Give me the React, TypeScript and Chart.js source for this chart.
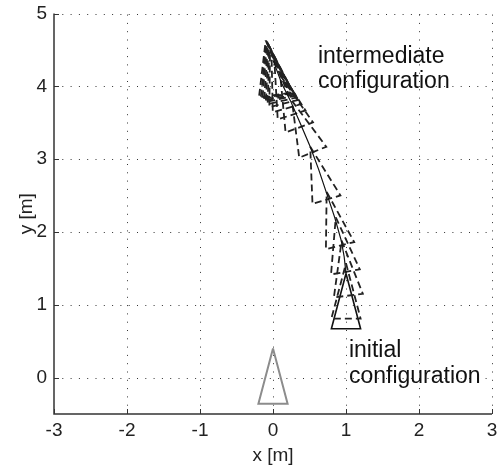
import React, { useEffect, useRef } from "react";
import { Chart, registerables } from "chart.js";

Chart.register(...registerables);

const xTicks = [-3, -2, -1, 0, 1, 2, 3];
const yTicks = [0, 1, 2, 3, 4, 5];
const xMin = -3;
const xMax = 3;
const yMin = -0.5;
const yMax = 5;

// trajectory of the robot front point [m]
const trajX = [1.0, 0.975, 0.935, 0.845, 0.735, 0.625, 0.51, 0.37, 0.24, 0.12, 0.0];
const trajY = [1.43, 1.66, 1.88, 2.2, 2.53, 2.86, 3.17, 3.5, 3.8, 4.04, 4.36];

// poses: front x [m], front y [m], heading [deg]
const goalPose = [0, 0.4, 90];
const initialPose = [1.0, 1.43, 90];
const interX = [1.0, 0.94, 0.86, 0.735, 0.51, 0.26, 0.1, 0.02, -0.02, -0.04, -0.05, -0.06, -0.07, -0.08, -0.09, -0.1];
const interY = [1.57, 1.88, 2.2, 2.55, 3.17, 3.8, 4.15, 4.33, 4.43, 4.5, 4.54, 4.57, 4.59, 4.61, 4.62, 4.63];
const interHeading = [90, 97, 100, 104, 107, 112, 110, 108, 106, 104, 103, 102, 101, 100, 99, 98];

const labelTop = ["intermediate", "configuration"];
const labelBottom = ["initial", "configuration"];

const TRI_LEN = 0.76;
const TRI_WIDTH = 0.4;
const FONT = '"Liberation Sans", Arial, sans-serif';

function triangle(x: number, y: number, h: number) {
  const r = (h * Math.PI) / 180;
  const dx = Math.cos(r);
  const dy = Math.sin(r);
  const bx = x - TRI_LEN * dx;
  const by = y - TRI_LEN * dy;
  const px = (Math.sin(r) * TRI_WIDTH) / 2;
  const py = (-Math.cos(r) * TRI_WIDTH) / 2;
  return [
    { x, y },
    { x: bx + px, y: by + py },
    { x: bx - px, y: by - py },
    { x, y },
  ];
}

const axesPlugin = {
  id: "axesPlugin",
  beforeDatasetsDraw(chart: any) {
    const { ctx, chartArea, scales } = chart;
    const xs = scales.x;
    const ys = scales.y;
    ctx.save();
    ctx.strokeStyle = "#333";
    ctx.lineWidth = 1;
    ctx.setLineDash([1, 7.3]);
    xTicks.forEach((v) => {
      if (v === xMin) return;
      const px = Math.round(xs.getPixelForValue(v)) + 0.5;
      ctx.beginPath();
      ctx.moveTo(px, chartArea.bottom);
      ctx.lineTo(px, chartArea.top);
      ctx.stroke();
    });
    yTicks.forEach((v) => {
      const py = Math.round(ys.getPixelForValue(v)) + 0.5;
      ctx.beginPath();
      ctx.moveTo(chartArea.left, py);
      ctx.lineTo(chartArea.right, py);
      ctx.stroke();
    });
    ctx.restore();
  },
  afterDatasetsDraw(chart: any) {
    const { ctx, chartArea, scales } = chart;
    const xs = scales.x;
    const ys = scales.y;
    ctx.save();
    ctx.setLineDash([]);
    ctx.strokeStyle = "#333";
    ctx.lineWidth = 1.5;
    ctx.beginPath();
    ctx.moveTo(chartArea.left, chartArea.top);
    ctx.lineTo(chartArea.left, chartArea.bottom);
    ctx.lineTo(chartArea.right, chartArea.bottom);
    ctx.stroke();
    ctx.lineWidth = 1;
    xTicks.forEach((v) => {
      const px = Math.round(xs.getPixelForValue(v)) + 0.5;
      ctx.beginPath();
      ctx.moveTo(px, chartArea.bottom);
      ctx.lineTo(px, chartArea.bottom - 5);
      ctx.stroke();
    });
    yTicks.forEach((v) => {
      const py = Math.round(ys.getPixelForValue(v)) + 0.5;
      ctx.beginPath();
      ctx.moveTo(chartArea.left, py);
      ctx.lineTo(chartArea.left + 5, py);
      ctx.stroke();
    });
    // annotations
    ctx.fillStyle = "#111";
    ctx.font = `23px ${FONT}`;
    ctx.textBaseline = "alphabetic";
    ctx.textAlign = "left";
    const tx = xs.getPixelForValue(0.616);
    const ty = ys.getPixelForValue(4.32);
    labelTop.forEach((s, i) => ctx.fillText(s, tx, ty + i * 25));
    const bx = xs.getPixelForValue(1.04);
    const by = ys.getPixelForValue(0.285);
    labelBottom.forEach((s, i) => ctx.fillText(s, bx, by + i * 26));
    ctx.restore();
  },
};

function zeroPad(s: any) {
  s.paddingLeft = 0;
  s.paddingRight = 0;
  s.paddingTop = 0;
  s.paddingBottom = 0;
}

export default function App() {
  const ref = useRef<HTMLCanvasElement | null>(null);
  useEffect(() => {
    document.body.style.margin = "0";
    if (!ref.current) return;
    const datasets: any[] = [];
    datasets.push({
      data: trajX.map((x, i) => ({ x, y: trajY[i] })),
      borderColor: "#111",
      borderWidth: 1.2,
    });
    interX.forEach((x, i) => {
      datasets.push({
        data: triangle(x, interY[i], interHeading[i]),
        borderColor: "#222",
        borderWidth: 1.8,
        borderDash: [7, 4],
      });
    });
    datasets.push({
      data: triangle(initialPose[0], initialPose[1], initialPose[2]),
      borderColor: "#111",
      borderWidth: 1.6,
    });
    datasets.push({
      data: triangle(goalPose[0], goalPose[1], goalPose[2]),
      borderColor: "#8c8c8c",
      borderWidth: 2,
    });
    datasets.forEach((d) => {
      d.showLine = true;
      d.pointRadius = 0;
      d.fill = false;
      d.tension = 0;
    });

    const chart = new Chart(ref.current, {
      type: "scatter",
      data: { datasets },
      plugins: [axesPlugin],
      options: {
        animation: false,
        responsive: false,
        devicePixelRatio: 1,
        layout: { padding: { top: 13.5, right: 5, left: 0, bottom: 0 } },
        plugins: { legend: { display: false }, tooltip: { enabled: false } },
        scales: {
          x: {
            type: "linear",
            min: xMin,
            max: xMax,
            afterBuildTicks: (s: any) => {
              s.ticks = xTicks.map((v) => ({ value: v }));
            },
            afterFit: (s: any) => {
              s.height = 53;
              zeroPad(s);
            },
            grid: { display: false, drawTicks: false },
            border: { display: false },
            ticks: {
              color: "#222",
              padding: 5,
              maxRotation: 0,
              font: { family: FONT, size: 19 },
              callback: (v: any) => String(v),
            },
            title: {
              display: true,
              text: "x [m]",
              color: "#222",
              font: { family: FONT, size: 19 },
              padding: { top: 0, bottom: 0 },
            },
          },
          y: {
            type: "linear",
            min: yMin,
            max: yMax,
            afterBuildTicks: (s: any) => {
              s.ticks = yTicks.map((v) => ({ value: v }));
            },
            afterFit: (s: any) => {
              s.width = 54;
              zeroPad(s);
            },
            grid: { display: false, drawTicks: false },
            border: { display: false },
            ticks: {
              color: "#222",
              padding: 7,
              font: { family: FONT, size: 19 },
              callback: (v: any) => String(v),
            },
            title: {
              display: true,
              text: "y [m]",
              color: "#222",
              font: { family: FONT, size: 19 },
              padding: { top: 15, bottom: 0 },
            },
          },
        },
      },
    });
    return () => chart.destroy();
  }, []);
  return <canvas ref={ref} width={497} height={467} style={{ display: "block" }} />;
}
